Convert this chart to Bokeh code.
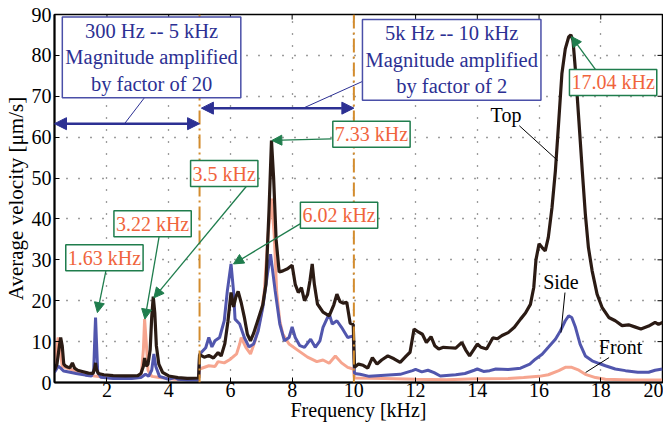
from bokeh.plotting import figure
from bokeh.models import Range1d, FixedTicker, Span, Label, Arrow, NormalHead
from bokeh.embed import file_html
from bokeh.resources import INLINE

# ---- measured spectra (frequency in kHz, average velocity in um/s) ----
top_khz = [0.30, 0.38, 0.45, 0.50, 0.55, 0.60, 0.66, 0.72, 0.80, 0.88, 0.95, 1.05, 1.20, 1.40,
           1.55, 1.60, 1.63, 1.66, 1.72, 1.90, 2.20, 2.60, 3.00, 3.10, 3.18, 3.22, 3.27, 3.33,
           3.40, 3.45, 3.50, 3.55, 3.60, 3.68, 3.80, 4.00, 4.30, 4.60, 4.97,
           5.00, 5.15, 5.30, 5.45, 5.60, 5.70, 5.82, 5.92, 6.02, 6.10, 6.18, 6.25, 6.35, 6.45,
           6.55, 6.65, 6.75, 6.90, 7.05, 7.15, 7.25, 7.33, 7.40, 7.48, 7.58, 7.70, 7.85, 8.00,
           8.10, 8.20, 8.30, 8.40, 8.50, 8.58, 8.65, 8.72, 8.82, 9.00, 9.20, 9.35, 9.45, 9.55,
           9.65, 9.77, 9.88, 9.98,
           10.02, 10.15, 10.30, 10.45, 10.60, 10.75, 10.90, 11.10, 11.30, 11.50, 11.70, 11.82,
           11.95, 12.10, 12.22, 12.35, 12.50, 12.62, 12.75, 12.90, 13.10, 13.30, 13.50, 13.62,
           13.75, 13.90, 14.00, 14.12, 14.30, 14.50, 14.65, 14.80, 15.00, 15.20, 15.40, 15.56,
           15.72, 15.83, 15.90, 16.00, 16.10, 16.20, 16.30, 16.42, 16.53, 16.64, 16.74, 16.85,
           16.96, 17.03, 17.10, 17.18, 17.29, 17.40, 17.50, 17.60, 17.72, 17.88, 18.04, 18.26,
           18.47, 18.69, 18.90, 19.10, 19.30, 19.55, 19.76, 19.87, 20.00]
top_vel = [3.0, 4.5, 8.5, 11.0, 9.0, 4.5, 4.0, 3.8, 3.6, 4.8, 3.5, 3.0, 2.7, 2.3,
           2.2, 3.5, 4.8, 3.2, 2.2, 1.9, 1.7, 1.6, 1.7, 2.2, 4.0, 6.0, 4.0, 4.5,
           8.0, 16.0, 21.0, 17.0, 9.0, 4.5, 2.5, 1.6, 1.2, 1.0, 1.1,
           6.8, 6.2, 6.6, 6.0, 7.3, 6.5, 9.5, 15.0, 22.0, 18.5, 21.0, 22.3, 19.5, 16.0,
           11.8, 10.2, 12.0, 15.5, 19.0, 24.0, 42.0, 59.2, 50.0, 35.0, 27.0, 27.3, 27.8, 28.7,
           24.0, 22.0, 23.2, 20.0, 21.5, 25.0, 29.0, 24.0, 19.2, 17.2, 16.3, 19.0, 21.6, 19.8,
           19.4, 19.6, 14.5, 14.2,
           3.7, 4.5, 4.2, 3.5, 6.1, 4.5, 5.5, 6.5, 5.8, 4.9, 6.5, 7.4,
           13.1, 12.3, 11.8, 9.8, 11.2, 9.0, 8.2, 8.6, 8.5, 8.4, 9.8, 8.0,
           6.5, 8.2, 9.4, 8.6, 8.2, 10.9, 10.7, 11.5, 12.2, 13.5, 15.5, 17.0,
           19.1, 23.3, 30.0, 33.9, 33.0, 32.2, 35.5, 42.8, 51.8, 64.1, 75.5, 81.6,
           84.5, 85.0, 83.7, 76.3, 64.1, 51.8, 41.2, 33.0, 27.3, 21.6, 18.4, 15.9,
           15.1, 13.9, 14.1, 13.6, 13.1, 13.8, 14.7, 14.2, 14.7]

side_khz = [0.30, 0.42, 0.50, 0.60, 0.80, 1.00, 1.30, 1.50, 1.57, 1.61, 1.63, 1.66, 1.70, 1.80,
            2.20, 2.80, 3.10, 3.25, 3.35, 3.45, 3.52, 3.58, 3.70, 4.00, 4.20, 4.30, 4.60, 4.97,
            5.00, 5.10, 5.20, 5.30, 5.40, 5.50, 5.65, 5.80, 5.90, 6.02, 6.10, 6.15, 6.30, 6.45,
            6.60, 6.75, 6.90, 7.05, 7.20, 7.30, 7.45, 7.60, 7.75, 7.90, 8.00, 8.10, 8.25, 8.40,
            8.60, 8.75, 8.90, 9.00, 9.20, 9.30, 9.45, 9.60, 9.80, 9.98,
            10.02, 10.20, 10.50, 11.00, 11.50, 11.90, 12.00, 12.20, 12.40, 12.60, 12.80, 13.30,
            13.60, 13.90, 14.00, 14.20, 14.40, 14.60, 15.00, 15.40, 15.70, 15.88, 16.10, 16.30,
            16.53, 16.69, 16.85, 16.96, 17.06, 17.18, 17.33, 17.50, 17.72, 17.93, 18.15, 18.47,
            18.80, 19.20, 19.55, 19.76, 20.00]
side_vel = [2.5, 4.0, 3.5, 2.8, 2.5, 2.2, 1.8, 1.6, 3.0, 12.0, 15.9, 10.0, 2.5, 1.3,
            1.0, 1.0, 1.2, 2.0, 1.5, 3.0, 7.0, 4.0, 1.5, 0.8, 1.2, 0.8, 0.6, 0.6,
            6.9, 7.7, 8.5, 11.0, 8.7, 10.2, 11.0, 15.1, 22.4, 29.0, 22.4, 15.5, 14.3, 11.0,
            8.7, 9.4, 12.6, 18.4, 26.5, 31.4, 22.4, 14.3, 10.2, 11.0, 13.6, 11.0, 9.0, 8.6,
            10.6, 8.6, 10.2, 13.5, 16.8, 14.3, 15.1, 13.5, 11.0, 11.4,
            2.2, 2.0, 1.5, 1.8, 2.0, 2.9, 3.2, 2.6, 3.0, 2.4, 1.6, 1.9,
            2.2, 3.0, 3.3, 2.7, 2.9, 3.3, 3.2, 3.5, 4.5, 5.7, 6.9, 8.6,
            10.6, 12.6, 15.1, 16.3, 15.9, 13.5, 9.4, 6.5, 5.3, 4.7, 4.1, 3.3,
            2.9, 2.5, 2.5, 3.0, 3.3]

front_khz = [0.30, 0.36, 0.42, 0.48, 0.55, 0.70, 1.00, 1.30, 1.60, 2.00, 2.50, 3.00, 3.12,
             3.18, 3.22, 3.27, 3.33, 3.45, 3.70, 4.20, 4.97,
             5.00, 5.30, 5.50, 5.60, 5.80, 6.00, 6.20, 6.30, 6.35, 6.50, 6.65, 6.80, 7.00,
             7.10, 7.22, 7.33, 7.42, 7.50, 7.60, 7.70, 7.90, 8.20, 8.50, 8.80, 9.00, 9.20,
             9.40, 9.60, 9.80, 9.98,
             10.02, 11.00, 12.00, 13.00, 14.00, 15.00, 15.50, 16.00, 16.30, 16.64, 16.85,
             17.06, 17.29, 17.50, 17.83, 18.15, 19.00, 20.00]
front_vel = [3.0, 8.0, 11.0, 8.0, 4.0, 3.5, 2.8, 2.0, 1.6, 1.2, 1.0, 1.2, 2.5,
             8.0, 15.5, 10.0, 3.0, 1.5, 1.2, 0.8, 0.8,
             3.3, 4.1, 3.9, 5.1, 4.8, 5.7, 7.0, 9.4, 11.0, 8.6, 7.0, 10.2, 16.7,
             22.4, 36.0, 45.0, 36.0, 22.0, 15.0, 11.8, 9.4, 7.8, 6.2, 5.1, 5.5, 4.7,
             6.5, 4.8, 3.7, 3.3,
             1.1, 1.0, 0.8, 0.7, 0.9, 1.0, 1.2, 1.5, 1.9, 2.9, 3.7,
             3.7, 3.0, 2.0, 1.2, 0.8, 0.6, 0.6]

x_ticks = [2, 4, 6, 8, 10, 12, 14, 16, 18, 20]
y_ticks = [0, 10, 20, 30, 40, 50, 60, 70, 80, 90]

# ---- styling ----
SERIF = "'Liberation Serif', 'Times New Roman', serif"
TOP_C, SIDE_C, FRONT_C = "#2b1b14", "#5156ad", "#f6a58f"
NOTE_TXT, NOTE_EDGE = "#f0643c", "#1f7d4d"
BAND_C = "#2c3093"
X_MIN, X_MAX, Y_MIN, Y_MAX = 0.3, 20, 0, 90

p = figure(width=663, height=426, output_backend="svg", toolbar_location=None,
           x_range=Range1d(X_MIN, X_MAX), y_range=Range1d(Y_MIN, Y_MAX),
           min_border_left=54, min_border_right=1, min_border_top=14,
           min_border_bottom=44)
p.outline_line_color = "black"
p.outline_line_width = 1.5

for ax in (p.xaxis[0], p.yaxis[0]):
    ax.major_tick_in = 5
    ax.major_tick_out = 0
    ax.minor_tick_line_color = None
    ax.axis_line_color = "black"
    ax.axis_line_width = 2
    ax.major_label_text_font = SERIF
    ax.major_label_text_font_size = "20px"
    ax.major_label_text_color = "black"
    ax.axis_label_text_font = SERIF
    ax.axis_label_text_font_style = "normal"
    ax.axis_label_text_color = "black"
p.xaxis.major_label_standoff = 0
p.yaxis.major_label_standoff = 3
p.xaxis.axis_label_text_font_size = "20px"
p.yaxis.axis_label_text_font_size = "21px"
p.xaxis.axis_label_standoff = -1
p.yaxis.axis_label_standoff = 1

p.xaxis.ticker = FixedTicker(ticks=x_ticks)
p.yaxis.ticker = FixedTicker(ticks=y_ticks)
p.xaxis.axis_label = "Frequency [kHz]"
p.yaxis.axis_label = "Average velocity [μm/s]"

# mirrored inward tick marks on the top and right edges of the box
p.ray(x=x_ticks, y=[Y_MAX] * len(x_ticks), length=5, length_units="screen",
      angle=-90, angle_units="deg", line_color="black", line_width=1)
p.ray(x=[X_MAX] * len(y_ticks), y=y_ticks, length=5, length_units="screen",
      angle=180, angle_units="deg", line_color="black", line_width=1)

for g in (p.xgrid[0], p.ygrid[0]):
    g.grid_line_color = "#3a3a3a"
    g.grid_line_dash = "1 11"
    g.grid_line_width = 1.3
p.xgrid.ticker = FixedTicker(ticks=x_ticks)
p.ygrid.ticker = FixedTicker(ticks=y_ticks)

# ---- spectra ----
p.line(front_khz, front_vel, line_color=FRONT_C, line_width=3)
p.line(side_khz, side_vel, line_color=SIDE_C, line_width=3)
p.line(top_khz, top_vel, line_color=TOP_C, line_width=3.2)

# band boundaries
for f in (5, 10):
    p.add_layout(Span(location=f, dimension="height", line_color="#d38c2e",
                      line_width=2, line_dash="14 4 2 4"))

# ---- amplification bands ----
band_notes = [
    (3.445, 79.5, "300 Hz -- 5 kHz\nMagnitude amplified\nby factor of 20"),
    (13.17, 78.9, "5k Hz -- 10 kHz\nMagnitude amplified\nby factor of 2"),
]
for bx, by, txt in band_notes:
    p.add_layout(Label(x=bx, y=by, text=txt, text_align="center", text_baseline="middle",
                       text_font=SERIF, text_font_size="20.5px", text_color=BAND_C,
                       text_line_height=1.2,
                       background_fill_color="white", border_line_color="#4a4fa8",
                       border_line_width=1.5, padding=3))

for x0, x1, y in ((0.3, 5.0, 63.3), (5.06, 10.0, 67.1)):
    p.add_layout(Arrow(x_start=x0, y_start=y, x_end=x1, y_end=y,
                       line_color=BAND_C, line_width=2.5,
                       start=NormalHead(size=12, fill_color=BAND_C, line_color=BAND_C),
                       end=NormalHead(size=12, fill_color=BAND_C, line_color=BAND_C)))
p.segment(x0=[2.57, 8.36], y0=[63.3, 67.1], x1=[3.27, 10.27], y1=[70.2, 73.6],
          line_color=BAND_C, line_width=1)

# ---- peak frequency call-outs ----
peak_notes = [
    # label x, label y, text, arrow start x, y, arrow tip x, y
    (1.918, 30.5, "1.63 kHz", 1.99, 28.2, 1.69, 17.1),
    (3.478, 38.85, "3.22 kHz", 3.713, 36.7, 3.229, 15.5),
    (5.80, 51.1, "3.5 kHz", 6.587, 48.6, 3.52, 20.7),
    (10.57, 60.7, "7.33 kHz", 9.28, 59.6, 7.343, 59.2),
    (9.52, 40.9, "6.02 kHz", 8.257, 38.8, 6.10, 29.0),
    (18.40, 73.4, "17.04 kHz", 17.89, 75.9, 17.05, 84.6),
]
for lx, ly, txt, ax0, ay0, ax1, ay1 in peak_notes:
    p.add_layout(Arrow(x_start=ax0, y_start=ay0, x_end=ax1, y_end=ay1,
                       line_color=NOTE_EDGE, line_width=1.3,
                       end=NormalHead(size=10, fill_color=NOTE_EDGE, line_color=NOTE_EDGE)))
    p.add_layout(Label(x=lx, y=ly, text=txt, text_align="center", text_baseline="middle",
                       text_font=SERIF, text_font_size="20px", text_color=NOTE_TXT,
                       background_fill_color="white", border_line_color=NOTE_EDGE,
                       border_line_width=1.5, padding=2))

# ---- series names ----
series_notes = [
    (14.93, 65.5, "Top", 15.36, 62.8, 16.6, 54.3),
    (16.71, 24.5, "Side", 16.84, 22.0, 16.71, 12.2),
    (18.64, 8.57, "Front", 18.27, 6.1, 17.51, 2.45),
]
for lx, ly, txt, x0, y0, x1, y1 in series_notes:
    p.segment(x0=[x0], y0=[y0], x1=[x1], y1=[y1], line_color="black", line_width=1)
    p.add_layout(Label(x=lx, y=ly, text=txt, text_align="center", text_baseline="middle",
                       text_font=SERIF, text_font_size="20px", text_color="black"))

open("out.html", "w").write(file_html(p, INLINE))
